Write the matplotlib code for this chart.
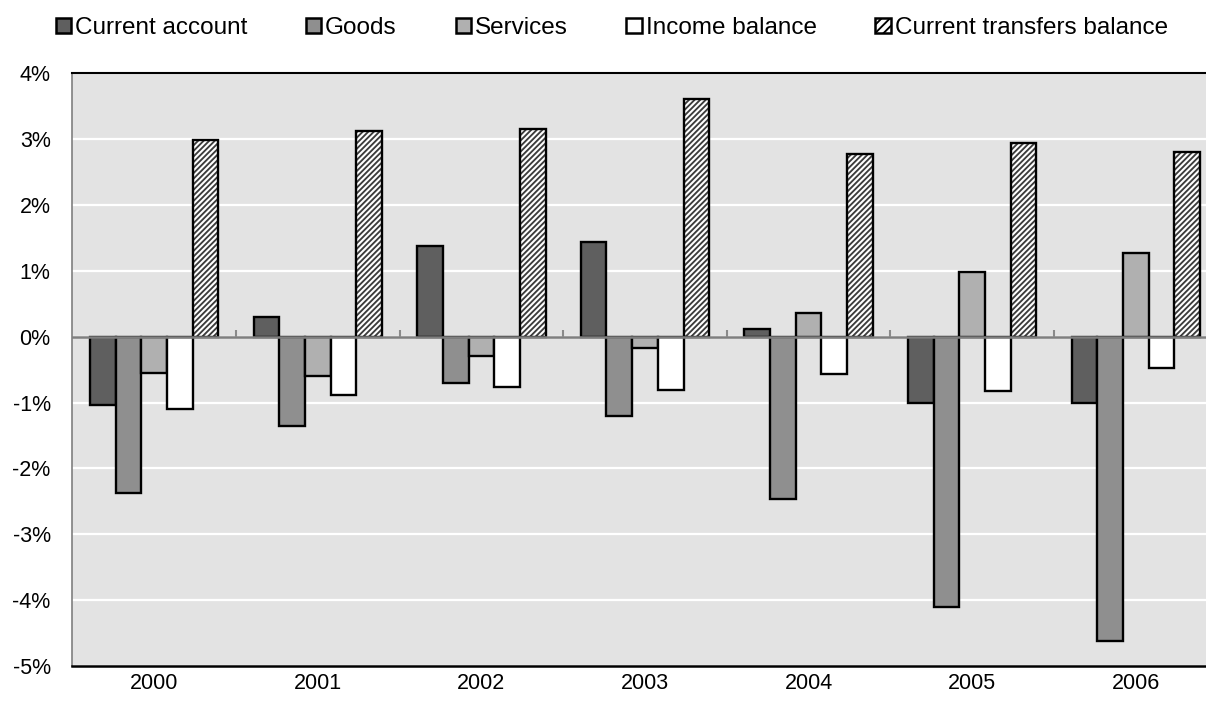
import numpy as np
import matplotlib
matplotlib.use("Agg")
import matplotlib.pyplot as plt
from matplotlib.patches import Patch
from matplotlib.ticker import FuncFormatter

plt.rcParams["font.family"] = ["Liberation Sans", "DejaVu Sans"]
plt.rcParams["hatch.linewidth"] = 1.35

years = ["2000", "2001", "2002", "2003", "2004", "2005", "2006"]
current_account = [-1.03, 0.30, 1.385, 1.445, 0.11, -1.00, -1.01]
goods = [-2.37, -1.36, -0.70, -1.20, -2.46, -4.10, -4.62]
services = [-0.55, -0.59, -0.30, -0.17, 0.365, 0.99, 1.27]
income_balance = [-1.09, -0.88, -0.77, -0.81, -0.57, -0.82, -0.47]
current_transfers = [2.99, 3.12, 3.15, 3.61, 2.77, 2.94, 2.80]
series_names = ["Current account", "Goods", "Services", "Income balance",
                "Current transfers balance"]
y_ticks = [-5, -4, -3, -2, -1, 0, 1, 2, 3, 4]

series = [current_account, goods, services, income_balance, current_transfers]
fills = ["#5f5f5f", "#8f8f8f", "#b0b0b0", "#ffffff", "#ffffff"]

W, H = 1206, 709
fig = plt.figure(figsize=(W / 100, H / 100), dpi=100)
ax = fig.add_axes([72.4 / W, 43 / H, 1145.2 / W, 592.7 / H])
ax.set_facecolor("#e3e3e3")

x = np.arange(len(years))
bw = 0.157
edge_lw = 1.7
for i, (vals, fc) in enumerate(zip(series, fills)):
    pos = x + (i - 2) * bw
    if i == 4:
        ax.bar(pos, vals, bw, color="white", edgecolor="#3c3c3c",
               hatch="//////", linewidth=0, zorder=2)
        ax.bar(pos, vals, bw, fill=False, edgecolor="black",
               linewidth=edge_lw, zorder=2.5)
    else:
        ax.bar(pos, vals, bw, color=fc, edgecolor="black",
               linewidth=edge_lw, zorder=2)

# zero line with small category separators
ax.axhline(0, color="#7f7f7f", linewidth=1.8, zorder=3)
ax.vlines(x[:-1] + 0.5, 0, 0.1, color="#8a8a8a", linewidth=1.5, zorder=3)

ax.set_xlim(-0.5, len(years) - 0.5)
ax.set_ylim(-5, 4)
ax.set_yticks(y_ticks)
ax.yaxis.set_major_formatter(FuncFormatter(lambda v, p: f"{v:.0f}%"))
ax.set_xticks(x)
ax.set_xticklabels(years)
ax.tick_params(axis="y", length=0, pad=15.6, labelsize=15.5)
ax.tick_params(axis="x", length=0, pad=5, labelsize=15.5)
ax.grid(axis="y", color="white", linewidth=1.6, zorder=1)
ax.set_axisbelow(True)

ax.spines["right"].set_visible(False)
ax.spines["top"].set_color("black")
ax.spines["top"].set_linewidth(1.5)
ax.spines["bottom"].set_color("black")
ax.spines["bottom"].set_linewidth(1.8)
ax.spines["left"].set_color("#7f7f7f")
ax.spines["left"].set_linewidth(1.2)

handles = []
for i, (name, fc) in enumerate(zip(series_names, fills)):
    if i == 4:
        handles.append(Patch(facecolor="white", edgecolor="black",
                             hatch="////", linewidth=1.8, label=name))
    else:
        handles.append(Patch(facecolor=fc, edgecolor="black",
                             linewidth=1.8, label=name))

fig.legend(handles=handles, loc="center left",
           bbox_to_anchor=(55.5 / W, 1 - 28 / H), ncol=5, frameon=False,
           fontsize=17.5, handlelength=0.62, handleheight=0.62,
           handletextpad=0.17, columnspacing=2.42, borderpad=0,
           borderaxespad=0)

fig.savefig("out.png", dpi=100)
